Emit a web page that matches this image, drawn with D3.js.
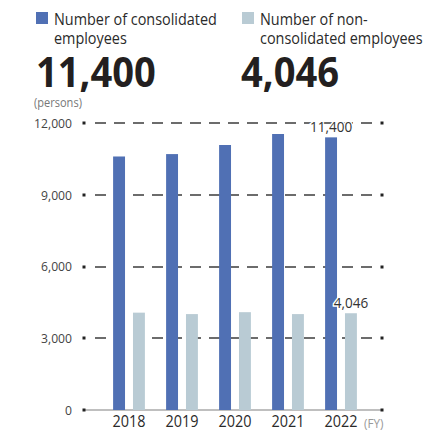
<!DOCTYPE html>
<html>
<head>
<meta charset="utf-8">
<script src="https://cdn.jsdelivr.net/npm/d3@7"></script>
<style>
  html, body { margin: 0; padding: 0; background: #fff; }
  svg { display: block; }
  text { font-family: "Open Sans", "Noto Sans", sans-serif; }
</style>
</head>
<body>
<svg id="chart" width="430" height="434"></svg>
<script>
// Employee headcount by fiscal year
const years = ["2018", "2019", "2020", "2021", "2022"];
const consolidated = [10600, 10700, 11080, 11540, 11400];
const nonConsolidated = [4070, 4010, 4090, 4010, 4046];
const yTicks = [0, 3000, 6000, 9000, 12000];
const legendLines = [["Number of consolidated", "employees"], ["Number of non-", "consolidated employees"]];
const headline = [11400, 4046];

const colors = { consolidated: "#5070b4", nonConsolidated: "#b9cbd4" };

const svg = d3.select("#chart");
const fmt = d3.format(",");

// Narrow the glyphs horizontally to get a condensed humanist look
function condense(sel, factor) {
  sel.each(function () {
    const w = this.getComputedTextLength();
    d3.select(this).attr("textLength", w * factor).attr("lengthAdjust", "spacingAndGlyphs");
  });
}

// Scales
const y = d3.scaleLinear().domain([0, 12000]).range([410, 123]);
const x = d3.scaleBand().domain(years).range([102.5, 367.5]).paddingInner(0.4).paddingOuter(0.2);
const xs = d3.scaleBand().domain(["c", "n"]).range([0, x.bandwidth()]).paddingInner(0.4);

// Header: legend entries and headline figures
const legend = [
  { x: 36, color: colors.consolidated, lines: legendLines[0], value: headline[0], vx: 36 },
  { x: 242, color: colors.nonConsolidated, lines: legendLines[1], value: headline[1], vx: 241 }
];
const head = svg.append("g");
legend.forEach(l => {
  head.append("rect").attr("x", l.x).attr("y", 12).attr("width", 12).attr("height", 12).attr("fill", l.color);
  l.lines.forEach((s, i) => {
    head.append("text").attr("class", "leg").attr("x", l.x + 18).attr("y", 25 + i * 19)
      .attr("font-size", 16).attr("fill", "#2a2a2a").text(s);
  });
  head.append("text").attr("class", "big").attr("x", l.vx).attr("y", 87)
    .attr("font-family", "'Roboto', 'Open Sans', sans-serif")
    .attr("font-weight", "bold").attr("font-size", 41).attr("fill", "#231f20")
    .text(fmt(l.value));
});
condense(head.selectAll("text.leg"), 0.9);
condense(head.selectAll("text.big"), 0.93);
head.append("text").attr("x", 34).attr("y", 107).attr("font-size", 12).attr("fill", "#777")
  .text("(persons)").call(condense, 0.92);

// Dashed grid lines
const grid = svg.append("g");
yTicks.filter(d => d > 0).forEach(d => {
  grid.append("line").attr("x1", 95).attr("x2", 373).attr("y1", Math.round(y(d))).attr("y2", Math.round(y(d)))
    .attr("stroke", "#3c3c3c").attr("stroke-width", 1.4).attr("stroke-dasharray", "11,8");
});
// Baseline
grid.append("line").attr("x1", 84).attr("x2", 383).attr("y1", y(0)).attr("y2", y(0))
  .attr("stroke", "#808080").attr("stroke-width", 1.2);
// Square end markers on every gridline
yTicks.forEach(d => {
  [84, 382].forEach(cx => {
    grid.append("rect").attr("x", cx - 1.5).attr("y", Math.round(y(d)) - 1.5)
      .attr("width", 3).attr("height", 3).attr("fill", "#222");
  });
});

// Bars
const groups = svg.append("g").selectAll("g").data(years).join("g")
  .attr("transform", d => `translate(${x(d)},0)`);
groups.append("rect")
  .attr("x", xs("c")).attr("width", xs.bandwidth())
  .attr("y", (d, i) => y(consolidated[i])).attr("height", (d, i) => y(0) - y(consolidated[i]))
  .attr("fill", colors.consolidated);
groups.append("rect")
  .attr("x", xs("n")).attr("width", xs.bandwidth())
  .attr("y", (d, i) => y(nonConsolidated[i])).attr("height", (d, i) => y(0) - y(nonConsolidated[i]))
  .attr("fill", colors.nonConsolidated);

// Value labels on the latest year
const last = years.length - 1;
const lab = svg.append("g").attr("font-size", 15).attr("fill", "#333").attr("text-anchor", "middle")
  .attr("stroke", "#fff").attr("stroke-width", 3).attr("paint-order", "stroke");
lab.append("text").attr("x", x(years[last]) + xs("c") + xs.bandwidth() / 2)
  .attr("y", y(consolidated[last]) - 5).text(fmt(consolidated[last]));
lab.append("text").attr("x", x(years[last]) + xs("n") + xs.bandwidth() / 2)
  .attr("y", y(nonConsolidated[last]) - 5).text(fmt(nonConsolidated[last]));
condense(lab.selectAll("text"), 0.9);

// Y axis labels
const yAxis = svg.append("g").attr("transform", "translate(84,0)")
  .call(d3.axisLeft(y).tickValues(yTicks).tickFormat(fmt).tickSize(0).tickPadding(12));
yAxis.select(".domain").remove();
yAxis.selectAll("text").attr("font-family", null)
  .attr("font-size", 13.5).attr("fill", "#444").call(condense, 0.9);

// X axis labels
const xAxis = svg.append("g").attr("transform", `translate(0,${y(0)})`)
  .call(d3.axisBottom(x).tickSize(0).tickPadding(6));
xAxis.select(".domain").remove();
xAxis.selectAll("text").attr("font-family", null)
  .attr("font-size", 16).attr("fill", "#2a2a2a").call(condense, 0.9);
svg.append("text").attr("x", 364).attr("y", 428).attr("font-size", 13).attr("fill", "#999")
  .text("(FY)").call(condense, 0.9);
</script>
</body>
</html>
